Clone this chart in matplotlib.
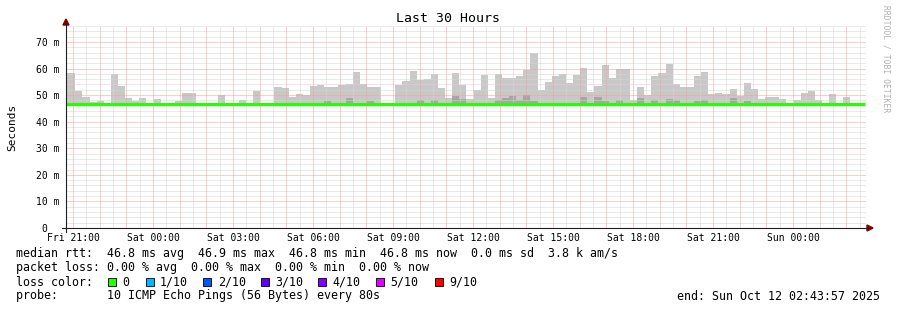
import matplotlib
matplotlib.use("Agg")
import matplotlib.pyplot as plt
from matplotlib.patches import Rectangle, Polygon
import numpy as np

# smoke steps (16 min each), values in ms
smoke_max = [58.3, 51.6, 49.4, 47.5, 47.7, 46.8, 57.9, 53.6, 49.0, 47.7,
             49.0, 46.8, 48.6, 46.8, 46.8, 47.7, 50.8, 50.8, 46.8, 46.8,
             46.8, 50.1, 46.8, 46.8, 48.2, 46.8, 51.7, 46.8, 46.8, 53.1,
             52.8, 49.4, 50.3, 50.1, 53.6, 53.8, 53.2, 53.2, 53.8, 54.2,
             58.8, 54.1, 53.2, 53.2, 46.8, 46.8, 53.8, 55.3, 59.1, 55.7,
             55.9, 57.8, 52.6, 48.8, 58.2, 53.8, 48.6, 51.9, 57.6, 49.0,
             57.8, 56.3, 56.6, 57.3, 59.5, 65.7, 51.9, 55.1, 57.2, 57.8,
             54.5, 57.6, 60.1, 51.3, 53.6, 61.3, 56.3, 59.8, 59.8, 48.0,
             53.1, 50.1, 57.2, 58.3, 61.7, 54.2, 53.1, 53.1, 57.2, 58.6,
             50.3, 50.7, 50.4, 52.3, 49.5, 54.5, 52.3, 48.6, 49.4, 49.4,
             48.6, 46.8, 48.2, 50.7, 51.6, 48.2, 46.8, 50.3, 46.8, 49.3,
             46.8, 46.8]
smoke_inner = {36: 47.8, 39: 49.0, 42: 47.6, 49: 48.2, 51: 48.3, 54: 49.5,
               55: 48.5, 60: 48.2, 61: 48.8, 62: 49.8, 63: 48.3, 64: 50.2,
               65: 47.8, 72: 49.2, 74: 49.4, 75: 47.8, 77: 48.2, 80: 48.8,
               82: 48.3, 84: 48.6, 85: 48.3, 88: 47.8, 89: 48.2, 93: 48.8,
               95: 47.6}
median_ms = [46.8] * len(smoke_max)

hour_labels = ["Fri 21:00", "Sat 00:00", "Sat 03:00", "Sat 06:00", "Sat 09:00",
               "Sat 12:00", "Sat 15:00", "Sat 18:00", "Sat 21:00", "Sun 00:00"]
y_ticks = [0, 10, 20, 30, 40, 50, 60, 70]
y_labels = ["0  ", "10 m", "20 m", "30 m", "40 m", "50 m", "60 m", "70 m"]

loss_labels = ["0", "1/10", "2/10", "3/10", "4/10", "5/10", "9/10"]
loss_colors = ["#26ff00", "#00b8ff", "#0059ff", "#5e00ff", "#7e00ff", "#dd00ff", "#ff0000"]

first_label_h = 16.05 / 60     # Fri 21:00 after graph start (20:43:57)
step_h = 16 / 60
first_edge_h = 0.082

W, H = 897, 310
mono = "DejaVu Sans Mono"
plt.rcParams["font.family"] = mono

fig = plt.figure(figsize=(W / 100, H / 100), dpi=100)
fig.patch.set_facecolor("white")

def fx(x):
    return x / W

def fy(y):
    return 1 - y / H

ax = fig.add_axes([fx(66), fy(228), 800 / W, 202 / H])
ax.set_xlim(0, 30)
ax.set_ylim(0, 76)
for s in ax.spines.values():
    s.set_visible(False)

n = len(smoke_max)
left = first_edge_h + step_h * np.arange(n)
widths = np.full(n, step_h)
widths[0] = left[0] + step_h
left[0] = 0
med = np.array(median_ms)
ax.bar(left, np.array(smoke_max) - med, width=widths, bottom=med, align="edge",
       color="#c8c8c8", linewidth=0, zorder=1)
inner_i = list(smoke_inner.keys())
inner_v = np.array(list(smoke_inner.values()))
ax.bar(left[inner_i], inner_v - med[inner_i], width=widths[inner_i], bottom=med[inner_i],
       align="edge", color="#a6a6a6", linewidth=0, zorder=1.1)

# grid
dots = (0, (1, 1))
for v in np.arange(2, 77, 2):
    major = v % 10 == 0
    ax.axhline(v, color="#f2a0a0" if major else "#d4d4d4", lw=0.72, ls=dots, zorder=2)
for k in range(0, 30):
    t = first_label_h + k
    if t < 30:
        ax.axvline(t, color="#f2a0a0", lw=0.72, ls=dots, zorder=2)
    if t + 0.5 < 30:
        ax.axvline(t + 0.5, color="#d4d4d4", lw=0.72, ls=dots, zorder=2)

# median
edges = np.append(left, left[-1] + widths[-1])
ax.stairs(med, edges, color="#26ff00", lw=2.2, zorder=3, baseline=None)

ax.set_xticks([first_label_h + 3 * k for k in range(len(hour_labels))])
ax.set_xticklabels(hour_labels, fontsize=7, family=mono)
ax.set_yticks(y_ticks)
ax.set_yticklabels(y_labels, fontsize=7, family=mono)
ax.tick_params(length=0, pad=4.5)
ax.tick_params(axis="x", pad=3.5)
ax.set_ylabel("Seconds", fontsize=8, family=mono, labelpad=14)

# axes with arrows
fig.add_artist(plt.Line2D([fx(62), fx(868)], [fy(228), fy(228)], color="#202020", lw=0.8))
fig.add_artist(plt.Line2D([fx(66), fx(66)], [fy(232), fy(24)], color="#202020", lw=0.8))
fig.add_artist(Polygon([[fx(867), fy(225)], [fx(873), fy(228)], [fx(867), fy(231)]],
                       closed=True, color="#7f0000", transform=fig.transFigure))
fig.add_artist(Polygon([[fx(63), fy(25)], [fx(66), fy(19)], [fx(69), fy(25)]],
                       closed=True, color="#7f0000", transform=fig.transFigure))

fig.text(fx(448), fy(19), "Last 30 Hours", ha="center", va="center", fontsize=9.5)
fig.text(fx(886), fy(59), "RRDTOOL / TOBI OETIKER", ha="center", va="center",
         rotation=-90, fontsize=5.8, color="#b0b0b0")

fs = 8.4
fig.text(fx(16), fy(254), "median rtt:  46.8 ms avg  46.9 ms max  46.8 ms min  46.8 ms now  0.0 ms sd  3.8 k am/s",
         ha="left", va="center", fontsize=fs)
fig.text(fx(16), fy(268), "packet loss: 0.00 % avg  0.00 % max  0.00 % min  0.00 % now",
         ha="left", va="center", fontsize=fs)
fig.text(fx(16), fy(282), "loss color:", ha="left", va="center", fontsize=fs)
box_x = [108.3, 145.7, 203.3, 261, 318.3, 376, 435]
for bx, lab, col in zip(box_x, loss_labels, loss_colors):
    fig.add_artist(Rectangle((fx(bx), fy(286)), 8 / W, 8 / H, facecolor=col,
                             edgecolor="black", lw=0.6, transform=fig.transFigure))
    fig.text(fx(bx + 14.4), fy(282), lab, ha="left", va="center", fontsize=fs)
fig.text(fx(16), fy(296), "probe:       10 ICMP Echo Pings (56 Bytes) every 80s",
         ha="left", va="center", fontsize=fs)
fig.text(fx(880), fy(296), "end: Sun Oct 12 02:43:57 2025", ha="right", va="center", fontsize=fs)

fig.savefig("out.png", dpi=100)
